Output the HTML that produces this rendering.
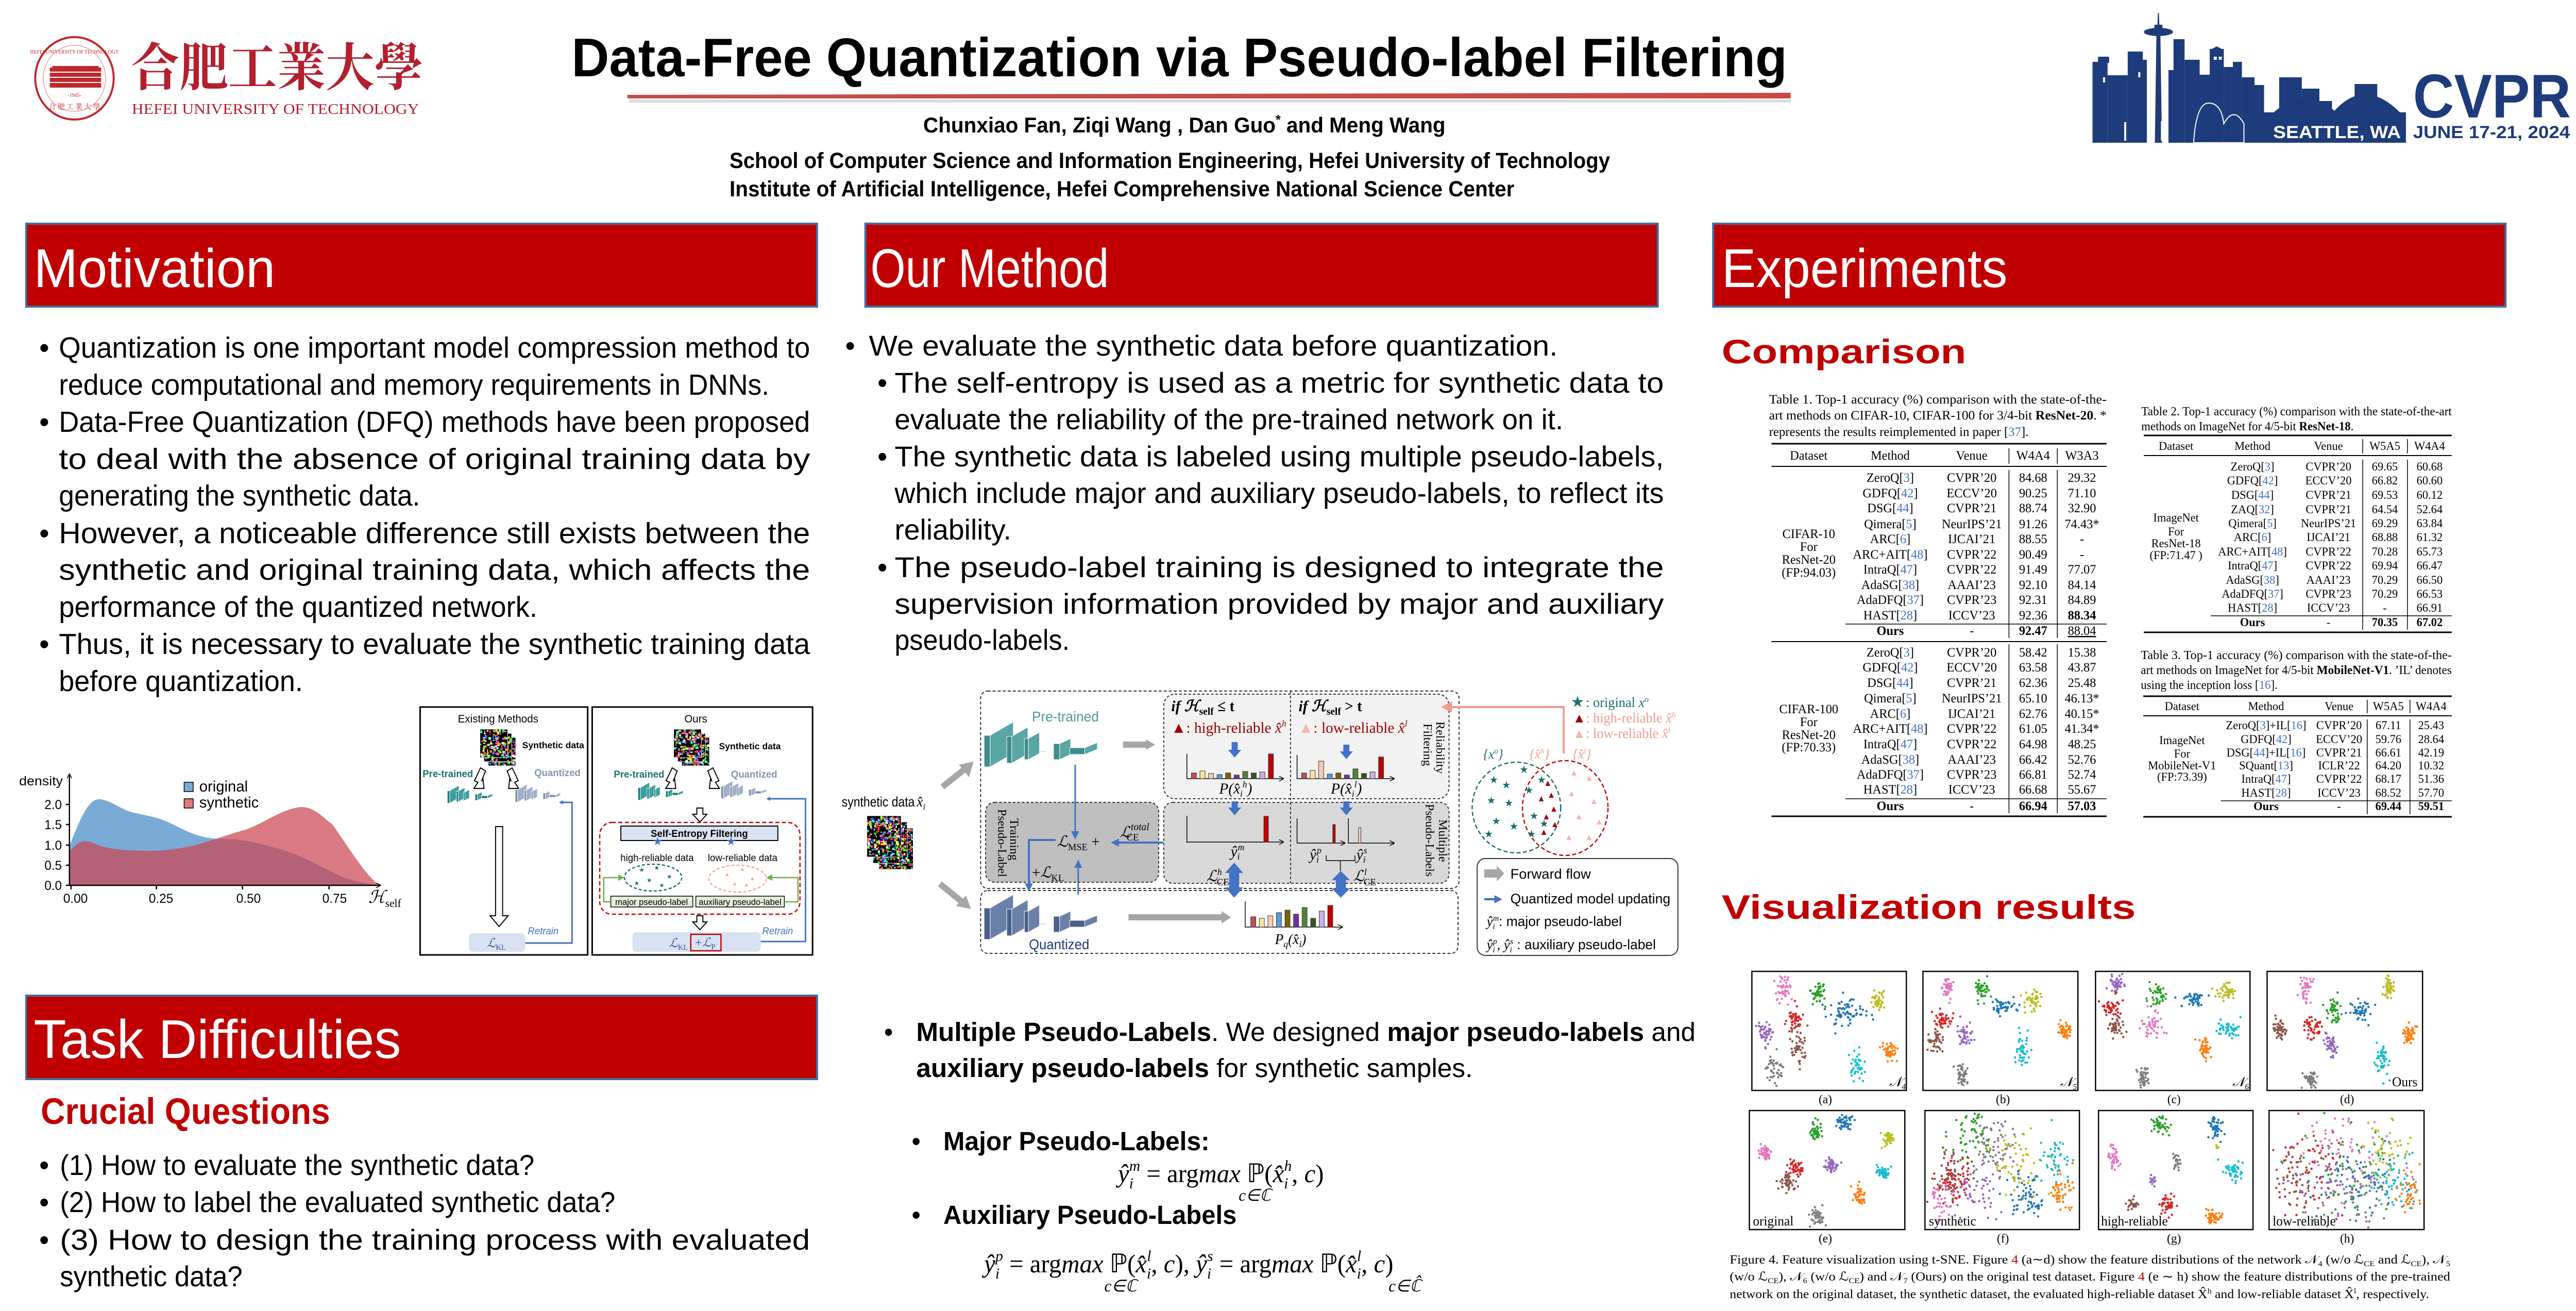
<!DOCTYPE html>
<html><head><meta charset="utf-8">
<style>
html,body{margin:0;padding:0;background:#fff;width:100%;height:100%;overflow:hidden;}
svg{display:block;position:fixed;left:0;top:0;width:100vw;height:100vh;}
.s{font-family:"Liberation Sans",sans-serif;}
.r{font-family:"Liberation Serif",serif;}
</style></head>
<body>
<svg id="sv" xmlns="http://www.w3.org/2000/svg" viewBox="0 0 5120 2544" preserveAspectRatio="none">
<defs>
<linearGradient id="rl" x1="0" x2="1"><stop offset="0" stop-color="#c0504d"/><stop offset="1" stop-color="#c94a47"/></linearGradient>
<marker id="ab" markerWidth="8" markerHeight="8" refX="6" refY="4" orient="auto" markerUnits="userSpaceOnUse"><path d="M0,0 L8,4 L0,8 z" fill="#4472c4"/></marker>
<marker id="ab2" markerWidth="16" markerHeight="16" refX="12" refY="8" orient="auto" markerUnits="userSpaceOnUse"><path d="M0,0 L16,8 L0,16 z" fill="#4472c4"/></marker>
<marker id="ap" markerWidth="22" markerHeight="22" refX="16" refY="11" orient="auto" markerUnits="userSpaceOnUse"><path d="M0,0 L22,11 L0,22 z" fill="#f19c8f"/></marker>
<marker id="ag" markerWidth="12" markerHeight="12" refX="9" refY="6" orient="auto" markerUnits="userSpaceOnUse"><path d="M0,0 L12,6 L0,12 z" fill="#70ad47"/></marker>
<marker id="ak" markerWidth="10" markerHeight="10" refX="8" refY="5" orient="auto" markerUnits="userSpaceOnUse"><path d="M0,0 L10,5 L0,10" fill="none" stroke="#000" stroke-width="1.5"/></marker>
</defs>

<ellipse cx="148" cy="152" rx="78" ry="80" fill="none" stroke="#c0282e" stroke-width="4"/>
<ellipse cx="148" cy="152" rx="62" ry="64" fill="none" stroke="#e6a0a0" stroke-width="1.5"/>
<text x="148" y="104" text-anchor="middle" class="r" font-size="10" fill="#c0282e">HEFEI UNIVERSITY OF TECHNOLOGY</text>
<rect x="99" y="131" width="102" height="39" fill="#c0282e"/>
<g stroke="#fff" stroke-width="2"><line x1="99" y1="140" x2="201" y2="140"/><line x1="99" y1="150" x2="201" y2="150"/><line x1="99" y1="160" x2="201" y2="160"/></g>
<rect x="104" y="128" width="92" height="4" fill="#c0282e"/>
<text x="148" y="188" text-anchor="middle" class="r" font-size="10" fill="#c0282e">-1945-</text>
<text x="148" y="212" text-anchor="middle" font-family="'Noto Serif CJK SC',serif" font-size="14" fill="#c0282e">合 肥 工 業 大 學</text>
<text x="260" y="166" font-family="'Noto Serif CJK SC','Noto Sans CJK SC',serif" font-weight="bold" font-size="100" fill="#b41f2e" textLength="581" lengthAdjust="spacingAndGlyphs">合肥工業大學</text>
<text x="262" y="221" class="r" font-size="28" fill="#b41f2e" textLength="571" lengthAdjust="spacingAndGlyphs">HEFEI UNIVERSITY OF TECHNOLOGY</text>

<text x="1136" y="148" class="s" font-weight="bold" font-size="106" textLength="2416" lengthAdjust="spacingAndGlyphs">Data-Free Quantization via Pseudo-label Filtering</text>
<rect x="1250" y="193" width="2310" height="6" fill="#ddd"/>
<path d="M1247,184 L3559,180 L3559,191 L1247,191 z" fill="url(#rl)"/>
<text x="1835" y="257" class="s" font-weight="bold" font-size="42" textLength="1038" lengthAdjust="spacingAndGlyphs">Chunxiao Fan, Ziqi Wang , Dan Guo<tspan dy="-16" font-size="26">*</tspan><tspan dy="16"> and Meng Wang</tspan></text>
<text x="1450" y="326" class="s" font-weight="bold" font-size="43" textLength="1750" lengthAdjust="spacingAndGlyphs">School of Computer Science and Information Engineering, Hefei University of Technology</text>
<text x="1450" y="381" class="s" font-weight="bold" font-size="43" textLength="1560" lengthAdjust="spacingAndGlyphs">Institute of Artificial Intelligence, Hefei Comprehensive National Science Center</text>

<g fill="#1e3c7b">
<rect x="4159" y="120" width="30" height="157"/>
<rect x="4170" y="110" width="22" height="12"/>
<rect x="4189" y="146" width="40" height="131"/>
<rect x="4229" y="100" width="30" height="177"/>
<rect x="4247" y="116" width="20" height="161"/>
<path d="M4283,277 L4286,70 L4294,70 L4297,277 z"/>
<ellipse cx="4290" cy="62" rx="29" ry="8"/>
<rect x="4282" y="48" width="16" height="10"/>
<path d="M4289,25 L4291,25 L4292,50 L4288,50 z"/>
<rect x="4310" y="136" width="25" height="141"/>
<rect x="4320" y="76" width="22" height="201"/>
<rect x="4342" y="116" width="30" height="161"/>
<rect x="4356" y="118" width="15" height="10"/>
<rect x="4372" y="145" width="22" height="132"/>
<rect x="4392" y="95" width="28" height="182"/>
<path d="M4396,95 L4406,90 L4416,95 z"/>
<rect x="4420" y="130" width="22" height="147"/>
<rect x="4438" y="120" width="18" height="157"/>
<rect x="4456" y="150" width="25" height="127"/>
<rect x="4480" y="165" width="20" height="112"/>
<rect x="4530" y="150" width="45" height="127"/>
<rect x="4575" y="172" width="35" height="105"/>
<rect x="4610" y="196" width="25" height="81"/>
<rect x="4680" y="163" width="45" height="114"/>
<rect x="4500" y="218" width="282" height="59"/>
<path d="M4517,220 Q4580,165 4640,215 Q4700,150 4770,218 z"/>
</g>
<g fill="#fff"><rect x="4222" y="237" width="4" height="36"/><rect x="4295" y="235" width="4" height="38"/>
<rect x="4180" y="150" width="4" height="10"/><rect x="4250" y="140" width="4" height="10"/><rect x="4400" y="110" width="6" height="6"/><rect x="4410" y="110" width="6" height="6"/></g>
<path d="M4360,277 Q4365,200 4390,200 Q4415,200 4420,240 Q4440,205 4460,240 L4460,277 z" fill="none" stroke="#fff" stroke-width="2"/>
<text x="4518" y="268" class="s" font-weight="bold" font-size="34" fill="#fff" textLength="254" lengthAdjust="spacingAndGlyphs">SEATTLE, WA</text>
<text x="4796" y="228" class="s" font-weight="bold" font-size="120" fill="#1e3c7b" textLength="314" lengthAdjust="spacingAndGlyphs">CVPR</text>
<text x="4796" y="268" class="s" font-weight="bold" font-size="34" fill="#1e3c7b" textLength="312" lengthAdjust="spacingAndGlyphs">JUNE 17-21, 2024</text>

<g fill="#c00000" stroke="#41719c" stroke-width="4">
<rect x="52" y="434" width="1572" height="161"/>
<rect x="1720" y="434" width="1575" height="161"/>
<rect x="3405" y="434" width="1575" height="161"/>
<rect x="52" y="1932" width="1572" height="162"/>
</g>
<g class="s" fill="#fff" font-size="106">
<text x="67" y="557" textLength="480" lengthAdjust="spacingAndGlyphs">Motivation</text>
<text x="1730" y="557" textLength="474" lengthAdjust="spacingAndGlyphs">Our Method</text>
<text x="3422" y="557" textLength="568" lengthAdjust="spacingAndGlyphs">Experiments</text>
<text x="67" y="2053" textLength="730" lengthAdjust="spacingAndGlyphs">Task Difficulties</text>
</g>

<g class="s" font-size="57" fill="#000">
<text x="78" y="694">•</text><text x="78" y="838">•</text><text x="78" y="1054">•</text><text x="78" y="1269">•</text>
<text x="117" y="694" textLength="1493" lengthAdjust="spacingAndGlyphs">Quantization is one important model compression method to</text>
<text x="117" y="766" textLength="1412" lengthAdjust="spacingAndGlyphs">reduce computational and memory requirements in DNNs.</text>
<text x="117" y="838" textLength="1493" lengthAdjust="spacingAndGlyphs">Data-Free Quantization (DFQ) methods have been proposed</text>
<text x="117" y="910" textLength="1493" lengthAdjust="spacingAndGlyphs">to  deal  with  the  absence  of  original  training  data  by</text>
<text x="117" y="981" textLength="718" lengthAdjust="spacingAndGlyphs">generating the synthetic data.</text>
<text x="117" y="1054" textLength="1493" lengthAdjust="spacingAndGlyphs">However,  a  noticeable  difference  still  exists  between  the</text>
<text x="117" y="1125" textLength="1493" lengthAdjust="spacingAndGlyphs">synthetic  and  original  training  data,  which  affects  the</text>
<text x="117" y="1197" textLength="951" lengthAdjust="spacingAndGlyphs">performance of the quantized network.</text>
<text x="117" y="1269" textLength="1493" lengthAdjust="spacingAndGlyphs">Thus, it is necessary to evaluate the synthetic training data</text>
<text x="117" y="1341" textLength="485" lengthAdjust="spacingAndGlyphs">before quantization.</text>
</g>

<path d="M138,1718 L138,1641 C160,1590 175,1548 200,1551 C225,1555 240,1572 270,1578 C300,1584 320,1588 340,1598 C370,1612 395,1628 444,1628 C490,1628 530,1640 570,1652 C610,1664 640,1685 690,1705 C720,1714 740,1716 753,1718 z" fill="#7aaad6"/>
<path d="M138,1718 L138,1652 C150,1640 160,1628 180,1634 C200,1642 215,1648 260,1650 C300,1652 330,1652 380,1642 C420,1632 450,1620 488,1610 C530,1595 560,1570 598,1566 C625,1566 640,1585 661,1600 C690,1640 720,1690 753,1718 z" fill="#cc4652" fill-opacity="0.72"/>
<g stroke="#000" stroke-width="2.5" fill="none">
<line x1="138" y1="1718" x2="755" y2="1718" marker-end="url(#ak)"/>
<line x1="138" y1="1718" x2="138" y2="1503" marker-end="url(#ak)"/>
<line x1="131" y1="1718" x2="138" y2="1718"/><line x1="131" y1="1679" x2="138" y2="1679"/><line x1="131" y1="1640" x2="138" y2="1640"/><line x1="131" y1="1600" x2="138" y2="1600"/><line x1="131" y1="1561" x2="138" y2="1561"/>
<line x1="141" y1="1718" x2="141" y2="1726"/><line x1="311" y1="1718" x2="311" y2="1726"/><line x1="482" y1="1718" x2="482" y2="1726"/><line x1="654" y1="1718" x2="654" y2="1726"/>
</g>
<g class="s" font-size="25" fill="#000">
<text x="38" y="1524" textLength="87" lengthAdjust="spacingAndGlyphs">density</text>
<text x="123" y="1570" text-anchor="end">2.0</text><text x="123" y="1609" text-anchor="end">1.5</text><text x="123" y="1649" text-anchor="end">1.0</text><text x="123" y="1688" text-anchor="end">0.5</text><text x="123" y="1727" text-anchor="end">0.0</text>
<text x="150" y="1752" text-anchor="middle">0.00</text><text x="320" y="1752" text-anchor="middle">0.25</text><text x="494" y="1752" text-anchor="middle">0.50</text><text x="665" y="1752" text-anchor="middle">0.75</text>
<rect x="366" y="1518" width="18" height="18" fill="#7aaad6" stroke="#000" stroke-width="1.5"/>
<rect x="366" y="1550" width="18" height="18" fill="#de7a80" stroke="#000" stroke-width="1.5"/>
<text x="396" y="1536" font-size="30">original</text>
<text x="396" y="1567" font-size="30">synthetic</text>
</g>
<text x="732" y="1752" class="r" font-style="italic" font-size="34">ℋ<tspan font-style="normal" font-size="22" dy="8">self</tspan></text>

<rect x="835" y="1372" width="333" height="481" fill="#fff" stroke="#000" stroke-width="3"/>
<rect x="1177" y="1372" width="438" height="481" fill="#fff" stroke="#000" stroke-width="3"/>
<g class="s" font-size="21">
<text x="990" y="1402" text-anchor="middle">Existing Methods</text>
<text x="1383" y="1402" text-anchor="middle">Ours</text>
<text x="1038" y="1452" font-weight="bold" font-size="18">Synthetic data</text>
<text x="1429" y="1454" font-weight="bold" font-size="18">Synthetic data</text>
<text x="840" y="1508" fill="#1b6e70" font-weight="bold" font-size="19">Pre-trained</text>
<text x="1062" y="1506" fill="#8496b0" font-weight="bold" font-size="19">Quantized</text>
<text x="1220" y="1509" fill="#1b6e70" font-weight="bold" font-size="19">Pre-trained</text>
<text x="1453" y="1509" fill="#8496b0" font-weight="bold" font-size="19">Quantized</text>
</g>
<g fill="#fff" stroke="#000" stroke-width="2">
<path d="M955,1490 L943,1515 L950,1518 L942,1530 L962,1530 L960,1512 L957,1516 L965,1496 z"/>
<path d="M1018,1490 L1030,1515 L1023,1518 L1031,1530 L1011,1530 L1013,1512 L1016,1516 L1008,1496 z"/>
<path d="M1336,1490 L1324,1515 L1331,1518 L1323,1530 L1343,1530 L1341,1512 L1338,1516 L1346,1496 z"/>
<path d="M1417,1490 L1429,1515 L1422,1518 L1430,1530 L1410,1530 L1412,1512 L1415,1516 L1407,1496 z"/>
<path d="M985,1604 L999,1604 L999,1777 L1010,1777 L992,1798 L974,1777 L985,1777 z"/>
<path d="M1385,1568 L1397,1568 L1397,1580 L1405,1580 L1391,1595 L1377,1580 L1385,1580 z"/>
<path d="M1385,1777 L1397,1777 L1397,1789 L1405,1789 L1391,1804 L1377,1789 L1385,1789 z"/>
</g>
<rect x="932" y="1811" width="112" height="36" rx="8" fill="#d9e2f3"/>
<text x="968" y="1838" class="r" font-style="italic" font-size="24" fill="#2f5597">ℒ<tspan font-size="15" dy="5" font-style="normal">KL</tspan></text>
<text x="1049" y="1813" class="s" font-style="italic" font-size="19" fill="#4472c4">Retrain</text>
<polyline points="1044,1830 1137,1830 1137,1557 1113,1557" fill="none" stroke="#4472c4" stroke-width="3" marker-end="url(#ab)"/>
<rect x="1192" y="1596" width="398" height="178" rx="24" fill="none" stroke="#c00000" stroke-width="2.5" stroke-dasharray="8,5"/>
<rect x="1234" y="1603" width="312" height="28" fill="#dae3f3" stroke="#000" stroke-width="2"/>
<text x="1390" y="1624" text-anchor="middle" class="s" font-weight="bold" font-size="19">Self-Entropy Filtering</text>
<text x="1307" y="1640" text-anchor="middle" fill="#4472c4" font-size="22">★</text>
<text x="1453" y="1640" text-anchor="middle" fill="#4472c4" font-size="22">★</text>
<text x="1306" y="1671" text-anchor="middle" class="s" font-size="19">high-reliable data</text>
<text x="1476" y="1671" text-anchor="middle" class="s" font-size="19">low-reliable data</text>
<ellipse cx="1298" cy="1703" rx="57" ry="26" fill="none" stroke="#1b6e70" stroke-width="2.5" stroke-dasharray="6,4"/>
<ellipse cx="1466" cy="1705" rx="57" ry="26" fill="none" stroke="#f4a99c" stroke-width="2.5" stroke-dasharray="6,4"/>
<g fill="#1b6e70" font-size="12"><text x="1270" y="1692">★</text><text x="1300" y="1688">★</text><text x="1325" y="1705">★</text><text x="1285" y="1712">★</text><text x="1260" y="1718">★</text><text x="1310" y="1722">★</text></g>
<g fill="#f4a99c" font-size="11"><text x="1440" y="1700">▲</text><text x="1470" y="1690">▲</text><text x="1490" y="1708">▲</text><text x="1455" y="1718">▲</text><text x="1478" y="1720">▲</text></g>
<rect x="1214" y="1739" width="163" height="21" fill="#e2efd9" stroke="#000" stroke-width="1.5"/>
<rect x="1383" y="1739" width="176" height="21" fill="#e2efd9" stroke="#000" stroke-width="1.5"/>
<text x="1295" y="1756" text-anchor="middle" class="s" font-size="17">major pseudo-label</text>
<text x="1471" y="1756" text-anchor="middle" class="s" font-size="17">auxiliary pseudo-label</text>
<polyline points="1214,1750 1200,1750 1200,1703 1238,1703" fill="none" stroke="#70ad47" stroke-width="2.5" marker-end="url(#ag)"/>
<polyline points="1559,1750 1586,1750 1586,1703 1526,1703" fill="none" stroke="#70ad47" stroke-width="2.5" marker-end="url(#ag)"/>
<rect x="1257" y="1809" width="255" height="38" rx="8" fill="#d9e2f3"/>
<text x="1330" y="1838" class="r" font-style="italic" font-size="24" fill="#2f5597">ℒ<tspan font-size="15" dy="5" font-style="normal">KL</tspan></text>
<rect x="1373" y="1813" width="60" height="32" fill="none" stroke="#c00000" stroke-width="2.5"/>
<text x="1380" y="1837" class="r" font-style="italic" font-size="24" fill="#2f5597">+ℒ<tspan font-size="15" dy="5" font-style="normal">P</tspan></text>
<text x="1515" y="1813" class="s" font-style="italic" font-size="19" fill="#4472c4">Retrain</text>
<polyline points="1512,1827 1601,1827 1601,1550 1525,1550" fill="none" stroke="#4472c4" stroke-width="3" marker-end="url(#ab)"/>

<text x="81" y="2181" class="s" font-weight="bold" font-size="71" fill="#c00000" textLength="575" lengthAdjust="spacingAndGlyphs">Crucial Questions</text>
<g class="s" font-size="56">
<text x="78" y="2280">•</text><text x="78" y="2352">•</text><text x="78" y="2425">•</text>
<text x="119" y="2280" textLength="943" lengthAdjust="spacingAndGlyphs">(1) How to evaluate the synthetic data?</text>
<text x="119" y="2352" textLength="1104" lengthAdjust="spacingAndGlyphs">(2) How to label the evaluated synthetic data?</text>
<text x="119" y="2425" textLength="1491" lengthAdjust="spacingAndGlyphs">(3)  How  to  design  the  training  process  with  evaluated</text>
<text x="119" y="2496" textLength="363" lengthAdjust="spacingAndGlyphs">synthetic data?</text>
</g>

<g class="s" font-size="56">
<text x="1680" y="690">•</text>
<text x="1727" y="690" textLength="1369" lengthAdjust="spacingAndGlyphs">We evaluate the synthetic data before quantization.</text>
<text x="1744" y="762">•</text><text x="1744" y="905">•</text><text x="1744" y="1120">•</text>
<text x="1778" y="762" textLength="1529" lengthAdjust="spacingAndGlyphs">The  self-entropy  is  used  as  a  metric  for  synthetic  data  to</text>
<text x="1778" y="833" textLength="1329" lengthAdjust="spacingAndGlyphs">evaluate the reliability of the pre-trained network on it.</text>
<text x="1778" y="905" textLength="1529" lengthAdjust="spacingAndGlyphs">The  synthetic  data  is  labeled  using  multiple  pseudo-labels,</text>
<text x="1778" y="976" textLength="1529" lengthAdjust="spacingAndGlyphs">which include major and auxiliary pseudo-labels, to reflect its</text>
<text x="1778" y="1047" textLength="232" lengthAdjust="spacingAndGlyphs">reliability.</text>
<text x="1778" y="1120" textLength="1529" lengthAdjust="spacingAndGlyphs">The   pseudo-label   training   is   designed   to   integrate   the</text>
<text x="1778" y="1191" textLength="1529" lengthAdjust="spacingAndGlyphs">supervision  information  provided  by  major  and  auxiliary</text>
<text x="1778" y="1261" textLength="348" lengthAdjust="spacingAndGlyphs">pseudo-labels.</text>
</g>

<rect x="1949" y="1341" width="951" height="383" rx="14" fill="none" stroke="#333" stroke-width="2" stroke-dasharray="6,4"/>
<rect x="1949" y="1728" width="949" height="122" rx="14" fill="none" stroke="#333" stroke-width="2" stroke-dasharray="6,4"/>
<rect x="2313" y="1347" width="567" height="203" rx="22" fill="#f2f2f2" stroke="#333" stroke-width="2" stroke-dasharray="5,4"/>
<rect x="2313" y="1557" width="567" height="157" rx="18" fill="#d9d9d9" stroke="#333" stroke-width="2" stroke-dasharray="5,4"/>
<rect x="1959" y="1557" width="344" height="155" rx="18" fill="#bfbfbf" stroke="#333" stroke-width="2" stroke-dasharray="5,4"/>
<line x1="2565" y1="1341" x2="2565" y2="1714" stroke="#333" stroke-width="2" stroke-dasharray="5,4"/>
<text x="1673" y="1565" class="s" font-size="27" textLength="145" lengthAdjust="spacingAndGlyphs">synthetic data</text>
<text x="1822" y="1565" class="r" font-style="italic" font-size="28">x̂<tspan font-size="17" dy="6">i</tspan></text>
<g stroke="#a6a6a6" stroke-width="12" fill="none">
<line x1="1873" y1="1527" x2="1918" y2="1492"/>
<line x1="1868" y1="1715" x2="1912" y2="1750"/>
<line x1="2232" y1="1445" x2="2280" y2="1445"/>
<line x1="2243" y1="1780" x2="2430" y2="1780"/>
</g>
<g fill="#a6a6a6">
<path d="M1935,1478 L1926,1508 L1906,1484 z"/>
<path d="M1930,1764 L1900,1758 L1920,1738 z"/>
<path d="M2296,1445 L2278,1435 L2278,1455 z"/>
<path d="M2447,1780 L2428,1768 L2428,1792 z"/>
</g>
<text x="2051" y="1400" class="s" font-size="28" fill="#4f9a9a" textLength="133" lengthAdjust="spacingAndGlyphs">Pre-trained</text>
<text x="2045" y="1842" class="s" font-size="28" fill="#1f3a78" textLength="120" lengthAdjust="spacingAndGlyphs">Quantized</text>
<line x1="2137" y1="1484" x2="2137" y2="1625" stroke="#4472c4" stroke-width="3" marker-end="url(#ab2)"/>
<line x1="2312" y1="1635" x2="2212" y2="1635" stroke="#4472c4" stroke-width="4" marker-end="url(#ab2)"/>
<polyline points="2098,1630 2045,1630 2045,1726" fill="none" stroke="#4472c4" stroke-width="4" marker-end="url(#ab2)"/>
<line x1="2143" y1="1736" x2="2143" y2="1672" stroke="#4472c4" stroke-width="3" marker-end="url(#ab2)"/>
<text x="2101" y="1643" class="r" font-style="italic" font-size="30">ℒ<tspan font-style="normal" font-size="19" dy="7">MSE</tspan><tspan font-style="normal" font-size="30" dy="-7"> +</tspan></text>
<text x="2226" y="1625" class="r" font-style="italic" font-size="30">ℒ<tspan font-size="20" dy="-14">total</tspan><tspan font-style="normal" font-size="19" dx="-45" dy="20">CE</tspan></text>
<text x="2051" y="1703" class="r" font-style="italic" font-size="30"><tspan font-style="normal">+</tspan>ℒ<tspan font-style="normal" font-size="19" dy="7">KL</tspan></text>
<text transform="translate(1984,1570) rotate(90)" class="r" font-size="24">Pseudo-Label</text>
<text transform="translate(2008,1588) rotate(90)" class="r" font-size="24">Training</text>
<text transform="translate(2855,1400) rotate(90)" class="r" font-size="24">Reliability</text>
<text transform="translate(2830,1404) rotate(90)" class="r" font-size="24">Filtering</text>
<text transform="translate(2860,1590) rotate(90)" class="r" font-size="24">Multiple</text>
<text transform="translate(2834,1560) rotate(90)" class="r" font-size="24">Pseudo-Labels</text>
<g class="r" font-size="30" font-style="italic">
<text x="2328" y="1380" font-weight="bold">if ℋ<tspan font-style="normal" font-size="20" dy="7">self</tspan><tspan dy="-7" font-style="normal"> ≤ t</tspan></text>
<text x="2581" y="1380" font-weight="bold">if ℋ<tspan font-style="normal" font-size="20" dy="7">self</tspan><tspan dy="-7" font-style="normal"> &gt; t</tspan></text>
</g>
<text x="2328" y="1422" class="r" font-size="30" fill="#a00000"><tspan fill="#a00000">▲</tspan>: high-reliable <tspan font-style="italic">x̂<tspan font-size="18" dy="-12">h</tspan></tspan></text>
<text x="2581" y="1422" class="r" font-size="30" fill="#a00000"><tspan fill="#f4b6ad">▲</tspan>: low-reliable <tspan font-style="italic">x̂<tspan font-size="18" dy="-12">l</tspan></tspan></text>
<g fill="#4472c4">
<path d="M2448,1440 L2460,1440 L2460,1455 L2467,1455 L2454,1470 L2441,1455 L2448,1455 z"/>
<path d="M2670,1445 L2682,1445 L2682,1458 L2689,1458 L2676,1473 L2663,1458 L2670,1458 z"/>
<path d="M2448,1555 L2460,1555 L2460,1567 L2467,1567 L2454,1582 L2441,1567 L2448,1567 z"/>
<path d="M2670,1555 L2682,1555 L2682,1567 L2689,1567 L2676,1582 L2663,1567 L2670,1567 z"/>
<path d="M2453,1674 L2471,1694 L2463,1694 L2463,1722 L2471,1722 L2453,1742 L2435,1722 L2443,1722 L2443,1694 L2435,1694 z"/>
<path d="M2665,1690 L2683,1708 L2675,1708 L2675,1724 L2683,1724 L2665,1742 L2647,1724 L2655,1724 L2655,1708 L2647,1708 z"/>
</g>
<g stroke="#000" stroke-width="1.5" fill="none">
<polyline points="2359,1463 2359,1511 2550,1511" marker-end="url(#ak)"/>
<polyline points="2578,1465 2578,1511 2770,1511" marker-end="url(#ak)"/>
<polyline points="2359,1583 2359,1634 2550,1634" marker-end="url(#ak)"/>
<polyline points="2578,1588 2578,1636 2672,1636" marker-end="url(#ak)"/>
<polyline points="2680,1588 2680,1636 2770,1636" marker-end="url(#ak)"/>
<polyline points="2475,1749 2475,1799 2667,1799" marker-end="url(#ak)"/>
<polyline points="2636,1660 2636,1670 2693,1670 2693,1660"/>
<line x1="2664" y1="1670" x2="2664" y2="1690"/>
</g>
<g id="bars"></g>
<text x="2456" y="1540" text-anchor="middle" class="r" font-style="italic" font-size="30">P(x̂<tspan font-size="18" dy="6">i</tspan><tspan font-size="18" dy="-18">h</tspan><tspan dy="12">)</tspan></text>
<text x="2676" y="1540" text-anchor="middle" class="r" font-style="italic" font-size="30">P(x̂<tspan font-size="18" dy="6">i</tspan><tspan font-size="18" dy="-18">l</tspan><tspan dy="12">)</tspan></text>
<text x="2446" y="1662" class="r" font-style="italic" font-size="30">ŷ<tspan font-size="18" dy="6">i</tspan><tspan font-size="18" dy="-18" dx="-4">m</tspan></text>
<text x="2603" y="1668" class="r" font-style="italic" font-size="30">ŷ<tspan font-size="18" dy="6">i</tspan><tspan font-size="18" dy="-18" dx="-4">p</tspan></text>
<text x="2696" y="1668" class="r" font-style="italic" font-size="30">ŷ<tspan font-size="18" dy="6">i</tspan><tspan font-size="18" dy="-18" dx="-4">s</tspan></text>
<text x="2398" y="1710" class="r" font-style="italic" font-size="30">ℒ<tspan font-size="18" dy="-12">h</tspan><tspan font-style="normal" font-size="19" dx="-10" dy="20">CE</tspan></text>
<text x="2690" y="1710" class="r" font-style="italic" font-size="30">ℒ<tspan font-size="18" dy="-12">l</tspan><tspan font-style="normal" font-size="19" dx="-6" dy="20">CE</tspan></text>
<text x="2534" y="1832" class="r" font-style="italic" font-size="28">P<tspan font-size="18" dy="6">q</tspan><tspan dy="-6">(x̂</tspan><tspan font-size="18" dy="6">i</tspan><tspan dy="-6">)</tspan></text>
<g id="nets"></g>
<polyline points="3108,1462 3108,1372 2870,1372" fill="none" stroke="#f19c8f" stroke-width="4" marker-end="url(#ap)"/>
<text x="3122" y="1372" fill="#1b6e70" font-size="30">★</text>
<text x="3152" y="1372" class="r" font-size="27" fill="#1b6e70">: original <tspan font-style="italic">x<tspan font-size="16" dy="-10">o</tspan></tspan></text>
<text x="3126" y="1402" fill="#a00000" font-size="26">▲</text>
<text x="3152" y="1402" class="r" font-size="27" fill="#f19c8f">: high-reliable <tspan font-style="italic">x̂<tspan font-size="16" dy="-10">h</tspan></tspan></text>
<text x="3126" y="1432" fill="#f4b6ad" font-size="26">▲</text>
<text x="3152" y="1432" class="r" font-size="27" fill="#f19c8f">: low-reliable <tspan font-style="italic">x̂<tspan font-size="16" dy="-10">l</tspan></tspan></text>
<text x="2948" y="1472" class="r" font-style="italic" font-size="26" fill="#1b6e70">{x<tspan font-size="15" dy="-10">o</tspan><tspan dy="10">}</tspan></text>
<text x="3040" y="1472" class="r" font-style="italic" font-size="26" fill="#f19c8f">{x̂<tspan font-size="15" dy="-10">h</tspan><tspan dy="10">}</tspan></text>
<text x="3126" y="1472" class="r" font-style="italic" font-size="26" fill="#f19c8f">{x̂<tspan font-size="15" dy="-10">l</tspan><tspan dy="10">}</tspan></text>
<ellipse cx="3014" cy="1567" rx="88" ry="88" fill="none" stroke="#1b6e70" stroke-width="2.5" stroke-dasharray="8,5"/>
<ellipse cx="3111" cy="1568" rx="85" ry="92" fill="none" stroke="#c00000" stroke-width="2.5" stroke-dasharray="8,5"/>
<g id="venn"></g>
<rect x="2936" y="1666" width="399" height="188" rx="16" fill="#fff" stroke="#333" stroke-width="2"/>
<path d="M2950,1687 L2975,1687 L2975,1680 L2990,1695 L2975,1710 L2975,1703 L2950,1703 z" fill="#a6a6a6"/>
<line x1="2950" y1="1745" x2="2982" y2="1745" stroke="#2e75b6" stroke-width="4" marker-end="url(#ab2)"/>
<g class="s" font-size="27">
<text x="3002" y="1705" textLength="160" lengthAdjust="spacingAndGlyphs">Forward flow</text>
<text x="3002" y="1753" textLength="318" lengthAdjust="spacingAndGlyphs">Quantized model updating</text>
<text x="2955" y="1797"><tspan class="r" font-style="italic">ŷ<tspan font-size="16" dy="6">i</tspan><tspan font-size="16" dy="-16" dx="-4">m</tspan></tspan><tspan dy="10">: major pseudo-label</tspan></text>
<text x="2955" y="1842"><tspan class="r" font-style="italic">ŷ<tspan font-size="16" dy="6">i</tspan><tspan font-size="16" dy="-16" dx="-4">p</tspan><tspan dy="10">, ŷ</tspan><tspan font-size="16" dy="6">i</tspan><tspan font-size="16" dy="-16" dx="-4">s</tspan></tspan><tspan dy="10"> : auxiliary pseudo-label</tspan></text>
</g>
<g id="imgs"></g>

<g class="s" font-size="51">
<text x="1757" y="2020">•</text>
<text x="1821" y="2020" textLength="1549" lengthAdjust="spacingAndGlyphs"><tspan font-weight="bold">Multiple Pseudo-Labels</tspan>. We designed <tspan font-weight="bold">major pseudo-labels</tspan> and</text>
<text x="1821" y="2090" textLength="1106" lengthAdjust="spacingAndGlyphs"><tspan font-weight="bold">auxiliary pseudo-labels</tspan> for synthetic samples.</text>
<text x="1812" y="2232">•</text>
<text x="1875" y="2232" font-weight="bold" textLength="529" lengthAdjust="spacingAndGlyphs">Major Pseudo-Labels:</text>
<text x="1812" y="2375">•</text>
<text x="1875" y="2375" font-weight="bold" textLength="583" lengthAdjust="spacingAndGlyphs">Auxiliary Pseudo-Labels</text>
</g>
<g class="r" font-size="50">
<text x="2222" y="2294"><tspan font-style="italic">ŷ</tspan><tspan font-size="30" dy="12" font-style="italic">i</tspan><tspan font-size="30" dy="-34" dx="-8" font-style="italic">m</tspan><tspan dy="22"> = arg</tspan><tspan font-style="italic">max</tspan> ℙ(<tspan font-style="italic">x̂</tspan><tspan font-size="30" dy="12" font-style="italic">i</tspan><tspan font-size="30" dy="-34" dx="-8" font-style="italic">h</tspan><tspan dy="22">, </tspan><tspan font-style="italic">c</tspan>)</text>
<text x="2462" y="2330" font-size="32" font-style="italic">c∈ℂ</text>
<text x="1956" y="2469"><tspan font-style="italic">ŷ</tspan><tspan font-size="30" dy="12" font-style="italic">i</tspan><tspan font-size="30" dy="-34" dx="-8" font-style="italic">p</tspan><tspan dy="22"> = arg</tspan><tspan font-style="italic">max</tspan> ℙ(<tspan font-style="italic">x̂</tspan><tspan font-size="30" dy="12" font-style="italic">i</tspan><tspan font-size="30" dy="-34" dx="-8" font-style="italic">l</tspan><tspan dy="22">, </tspan><tspan font-style="italic">c</tspan>), <tspan font-style="italic">ŷ</tspan><tspan font-size="30" dy="12" font-style="italic">i</tspan><tspan font-size="30" dy="-34" dx="-8" font-style="italic">s</tspan><tspan dy="22"> = arg</tspan><tspan font-style="italic">max</tspan> ℙ(<tspan font-style="italic">x̂</tspan><tspan font-size="30" dy="12" font-style="italic">i</tspan><tspan font-size="30" dy="-34" dx="-8" font-style="italic">l</tspan><tspan dy="22">, </tspan><tspan font-style="italic">c</tspan>)</text>
<text x="2195" y="2506" font-size="32" font-style="italic">c∈ℂ</text>
<text x="2760" y="2506" font-size="32" font-style="italic">c∈ℂ̂</text>
</g>

<text x="3422" y="705" class="s" font-weight="bold" font-size="66" fill="#c00000" textLength="486" lengthAdjust="spacingAndGlyphs">Comparison</text>
<text x="3422" y="1783" class="s" font-weight="bold" font-size="66" fill="#c00000" textLength="823" lengthAdjust="spacingAndGlyphs">Visualization results</text>

<g class="r" font-size="25">
<text x="3516" y="783" textLength="671" lengthAdjust="spacingAndGlyphs">Table 1.  Top-1 accuracy (%) comparison with the state-of-the-</text>
<text x="3516" y="814" textLength="671" lengthAdjust="spacingAndGlyphs">art methods on CIFAR-10, CIFAR-100 for 3/4-bit <tspan font-weight="bold">ResNet-20</tspan>.  *</text>
<text x="3516" y="846" textLength="516" lengthAdjust="spacingAndGlyphs">represents the results reimplemented in paper [<tspan fill="#4472c4">37</tspan>].</text>
</g>
<g stroke="#000">
<line x1="3521" y1="861" x2="4187" y2="861" stroke-width="3"/>
<line x1="3521" y1="905" x2="4187" y2="905" stroke-width="2"/>
<line x1="3668" y1="1211" x2="4187" y2="1211" stroke-width="1.5"/>
<line x1="3521" y1="1245" x2="4187" y2="1245" stroke-width="2"/>
<line x1="3668" y1="1550" x2="4187" y2="1550" stroke-width="1.5"/>
<line x1="3521" y1="1584" x2="4187" y2="1584" stroke-width="3"/>
<line x1="3993" y1="870" x2="3993" y2="900" stroke-width="1.5"/><line x1="4089" y1="870" x2="4089" y2="900" stroke-width="1.5"/>
<line x1="3993" y1="912" x2="3993" y2="1238" stroke-width="1.5"/><line x1="4089" y1="912" x2="4089" y2="1238" stroke-width="1.5"/>
<line x1="3993" y1="1250" x2="3993" y2="1578" stroke-width="1.5"/><line x1="4089" y1="1250" x2="4089" y2="1578" stroke-width="1.5"/>
</g>
<g class="r" font-size="25" text-anchor="middle">
<text y="892"><tspan x="3595">Dataset</tspan><tspan x="3757">Method</tspan><tspan x="3919">Venue</tspan><tspan x="4041">W4A4</tspan><tspan x="4138">W3A3</tspan></text>
<text x="3595" y="1044">CIFAR-10</text><text x="3595" y="1069">For</text><text x="3595" y="1094">ResNet-20</text><text x="3595" y="1119">(FP:94.03)</text>
<text x="3595" y="1384">CIFAR-100</text><text x="3595" y="1409">For</text><text x="3595" y="1434">ResNet-20</text><text x="3595" y="1458">(FP:70.33)</text>
<text y="935"><tspan x="3757">ZeroQ[<tspan fill="#4472c4">3</tspan>]</tspan><tspan x="3919">CVPR’20</tspan><tspan x="4041">84.68</tspan><tspan x="4138">29.32</tspan></text>
<text y="965"><tspan x="3757">GDFQ[<tspan fill="#4472c4">42</tspan>]</tspan><tspan x="3919">ECCV’20</tspan><tspan x="4041">90.25</tspan><tspan x="4138">71.10</tspan></text>
<text y="994"><tspan x="3757">DSG[<tspan fill="#4472c4">44</tspan>]</tspan><tspan x="3919">CVPR’21</tspan><tspan x="4041">88.74</tspan><tspan x="4138">32.90</tspan></text>
<text y="1025"><tspan x="3757">Qimera[<tspan fill="#4472c4">5</tspan>]</tspan><tspan x="3919">NeurIPS’21</tspan><tspan x="4041">91.26</tspan><tspan x="4138">74.43*</tspan></text>
<text y="1054"><tspan x="3757">ARC[<tspan fill="#4472c4">6</tspan>]</tspan><tspan x="3919">IJCAI’21</tspan><tspan x="4041">88.55</tspan><tspan x="4138">-</tspan></text>
<text y="1084"><tspan x="3757">ARC+AIT[<tspan fill="#4472c4">48</tspan>]</tspan><tspan x="3919">CVPR’22</tspan><tspan x="4041">90.49</tspan><tspan x="4138">-</tspan></text>
<text y="1113"><tspan x="3757">IntraQ[<tspan fill="#4472c4">47</tspan>]</tspan><tspan x="3919">CVPR’22</tspan><tspan x="4041">91.49</tspan><tspan x="4138">77.07</tspan></text>
<text y="1143"><tspan x="3757">AdaSG[<tspan fill="#4472c4">38</tspan>]</tspan><tspan x="3919">AAAI’23</tspan><tspan x="4041">92.10</tspan><tspan x="4138">84.14</tspan></text>
<text y="1172"><tspan x="3757">AdaDFQ[<tspan fill="#4472c4">37</tspan>]</tspan><tspan x="3919">CVPR’23</tspan><tspan x="4041">92.31</tspan><tspan x="4138">84.89</tspan></text>
<text y="1202"><tspan x="3757">HAST[<tspan fill="#4472c4">28</tspan>]</tspan><tspan x="3919">ICCV’23</tspan><tspan x="4041">92.36</tspan><tspan x="4138" font-weight="bold">88.34</tspan></text>
<text y="1232"><tspan x="3757" font-weight="bold">Ours</tspan><tspan x="3919">-</tspan><tspan x="4041" font-weight="bold">92.47</tspan><tspan x="4138" text-decoration="underline">88.04</tspan></text>
<text y="1274"><tspan x="3757">ZeroQ[<tspan fill="#4472c4">3</tspan>]</tspan><tspan x="3919">CVPR’20</tspan><tspan x="4041">58.42</tspan><tspan x="4138">15.38</tspan></text>
<text y="1303"><tspan x="3757">GDFQ[<tspan fill="#4472c4">42</tspan>]</tspan><tspan x="3919">ECCV’20</tspan><tspan x="4041">63.58</tspan><tspan x="4138">43.87</tspan></text>
<text y="1333"><tspan x="3757">DSG[<tspan fill="#4472c4">44</tspan>]</tspan><tspan x="3919">CVPR’21</tspan><tspan x="4041">62.36</tspan><tspan x="4138">25.48</tspan></text>
<text y="1363"><tspan x="3757">Qimera[<tspan fill="#4472c4">5</tspan>]</tspan><tspan x="3919">NeurIPS’21</tspan><tspan x="4041">65.10</tspan><tspan x="4138">46.13*</tspan></text>
<text y="1393"><tspan x="3757">ARC[<tspan fill="#4472c4">6</tspan>]</tspan><tspan x="3919">IJCAI’21</tspan><tspan x="4041">62.76</tspan><tspan x="4138">40.15*</tspan></text>
<text y="1422"><tspan x="3757">ARC+AIT[<tspan fill="#4472c4">48</tspan>]</tspan><tspan x="3919">CVPR’22</tspan><tspan x="4041">61.05</tspan><tspan x="4138">41.34*</tspan></text>
<text y="1452"><tspan x="3757">IntraQ[<tspan fill="#4472c4">47</tspan>]</tspan><tspan x="3919">CVPR’22</tspan><tspan x="4041">64.98</tspan><tspan x="4138">48.25</tspan></text>
<text y="1482"><tspan x="3757">AdaSG[<tspan fill="#4472c4">38</tspan>]</tspan><tspan x="3919">AAAI’23</tspan><tspan x="4041">66.42</tspan><tspan x="4138">52.76</tspan></text>
<text y="1511"><tspan x="3757">AdaDFQ[<tspan fill="#4472c4">37</tspan>]</tspan><tspan x="3919">CVPR’23</tspan><tspan x="4041">66.81</tspan><tspan x="4138">52.74</tspan></text>
<text y="1540"><tspan x="3757">HAST[<tspan fill="#4472c4">28</tspan>]</tspan><tspan x="3919">ICCV’23</tspan><tspan x="4041">66.68</tspan><tspan x="4138">55.67</tspan></text>
<text y="1572"><tspan x="3757" font-weight="bold">Ours</tspan><tspan x="3919">-</tspan><tspan x="4041" font-weight="bold">66.94</tspan><tspan x="4138" font-weight="bold">57.03</tspan></text>
</g>

<g class="r" font-size="24">
<text x="4256" y="806" textLength="617" lengthAdjust="spacingAndGlyphs">Table 2. Top-1 accuracy (%) comparison with the state-of-the-art</text>
<text x="4256" y="835" textLength="422" lengthAdjust="spacingAndGlyphs">methods on ImageNet for 4/5-bit <tspan font-weight="bold">ResNet-18</tspan>.</text>
</g>
<g stroke="#000">
<line x1="4261" y1="845" x2="4873" y2="845" stroke-width="3"/>
<line x1="4261" y1="884" x2="4873" y2="884" stroke-width="2"/>
<line x1="4394" y1="1195" x2="4873" y2="1195" stroke-width="1.5"/>
<line x1="4261" y1="1227" x2="4873" y2="1227" stroke-width="3"/>
<line x1="4696" y1="852" x2="4696" y2="880" stroke-width="1.5"/><line x1="4785" y1="852" x2="4785" y2="880" stroke-width="1.5"/>
<line x1="4696" y1="892" x2="4696" y2="1222" stroke-width="1.5"/><line x1="4785" y1="892" x2="4785" y2="1222" stroke-width="1.5"/>
</g>
<g class="r" font-size="23" text-anchor="middle">
<text y="873"><tspan x="4325">Dataset</tspan><tspan x="4477">Method</tspan><tspan x="4628">Venue</tspan><tspan x="4740">W5A5</tspan><tspan x="4829">W4A4</tspan></text>
<text x="4325" y="1012">ImageNet</text><text x="4325" y="1039">For</text><text x="4325" y="1062">ResNet-18</text><text x="4325" y="1085">(FP:71.47 )</text>
<text y="913"><tspan x="4477">ZeroQ[<tspan fill="#4472c4">3</tspan>]</tspan><tspan x="4628">CVPR’20</tspan><tspan x="4740">69.65</tspan><tspan x="4829">60.68</tspan></text>
<text y="940"><tspan x="4477">GDFQ[<tspan fill="#4472c4">42</tspan>]</tspan><tspan x="4628">ECCV’20</tspan><tspan x="4740">66.82</tspan><tspan x="4829">60.60</tspan></text>
<text y="968"><tspan x="4477">DSG[<tspan fill="#4472c4">44</tspan>]</tspan><tspan x="4628">CVPR’21</tspan><tspan x="4740">69.53</tspan><tspan x="4829">60.12</tspan></text>
<text y="996"><tspan x="4477">ZAQ[<tspan fill="#4472c4">32</tspan>]</tspan><tspan x="4628">CVPR’21</tspan><tspan x="4740">64.54</tspan><tspan x="4829">52.64</tspan></text>
<text y="1023"><tspan x="4477">Qimera[<tspan fill="#4472c4">5</tspan>]</tspan><tspan x="4628">NeurIPS’21</tspan><tspan x="4740">69.29</tspan><tspan x="4829">63.84</tspan></text>
<text y="1050"><tspan x="4477">ARC[<tspan fill="#4472c4">6</tspan>]</tspan><tspan x="4628">IJCAI’21</tspan><tspan x="4740">68.88</tspan><tspan x="4829">61.32</tspan></text>
<text y="1078"><tspan x="4477">ARC+AIT[<tspan fill="#4472c4">48</tspan>]</tspan><tspan x="4628">CVPR’22</tspan><tspan x="4740">70.28</tspan><tspan x="4829">65.73</tspan></text>
<text y="1105"><tspan x="4477">IntraQ[<tspan fill="#4472c4">47</tspan>]</tspan><tspan x="4628">CVPR’22</tspan><tspan x="4740">69.94</tspan><tspan x="4829">66.47</tspan></text>
<text y="1133"><tspan x="4477">AdaSG[<tspan fill="#4472c4">38</tspan>]</tspan><tspan x="4628">AAAI’23</tspan><tspan x="4740">70.29</tspan><tspan x="4829">66.50</tspan></text>
<text y="1160"><tspan x="4477">AdaDFQ[<tspan fill="#4472c4">37</tspan>]</tspan><tspan x="4628">CVPR’23</tspan><tspan x="4740">70.29</tspan><tspan x="4829">66.53</tspan></text>
<text y="1187"><tspan x="4477">HAST[<tspan fill="#4472c4">28</tspan>]</tspan><tspan x="4628">ICCV’23</tspan><tspan x="4740">-</tspan><tspan x="4829">66.91</tspan></text>
<text y="1215"><tspan x="4477" font-weight="bold">Ours</tspan><tspan x="4628">-</tspan><tspan x="4740" font-weight="bold">70.35</tspan><tspan x="4829" font-weight="bold">67.02</tspan></text>
</g>

<g class="r" font-size="24">
<text x="4255" y="1279" textLength="618" lengthAdjust="spacingAndGlyphs">Table 3.  Top-1 accuracy (%) comparison with the state-of-the-</text>
<text x="4255" y="1308" textLength="618" lengthAdjust="spacingAndGlyphs">art methods on ImageNet for 4/5-bit <tspan font-weight="bold">MobileNet-V1</tspan>. ’IL’ denotes</text>
<text x="4255" y="1337" textLength="272" lengthAdjust="spacingAndGlyphs">using the inception loss [<tspan fill="#4472c4">16</tspan>].</text>
</g>
<g stroke="#000">
<line x1="4260" y1="1351" x2="4873" y2="1351" stroke-width="3"/>
<line x1="4260" y1="1389" x2="4873" y2="1389" stroke-width="2"/>
<line x1="4414" y1="1554" x2="4873" y2="1554" stroke-width="1.5"/>
<line x1="4260" y1="1585" x2="4873" y2="1585" stroke-width="3"/>
<line x1="4705" y1="1358" x2="4705" y2="1384" stroke-width="1.5"/><line x1="4790" y1="1358" x2="4790" y2="1384" stroke-width="1.5"/>
<line x1="4705" y1="1396" x2="4705" y2="1580" stroke-width="1.5"/><line x1="4790" y1="1396" x2="4790" y2="1580" stroke-width="1.5"/>
</g>
<g class="r" font-size="23" text-anchor="middle">
<text y="1378"><tspan x="4337">Dataset</tspan><tspan x="4504">Method</tspan><tspan x="4649">Venue</tspan><tspan x="4747">W5A5</tspan><tspan x="4832">W4A4</tspan></text>
<text x="4337" y="1444">ImageNet</text><text x="4337" y="1470">For</text><text x="4337" y="1493">MobileNet-V1</text><text x="4337" y="1515">(FP:73.39)</text>
<text y="1415"><tspan x="4504">ZeroQ[<tspan fill="#4472c4">3</tspan>]+IL[<tspan fill="#4472c4">16</tspan>]</tspan><tspan x="4649">CVPR’20</tspan><tspan x="4747">67.11</tspan><tspan x="4832">25.43</tspan></text>
<text y="1442"><tspan x="4504">GDFQ[<tspan fill="#4472c4">42</tspan>]</tspan><tspan x="4649">ECCV’20</tspan><tspan x="4747">59.76</tspan><tspan x="4832">28.64</tspan></text>
<text y="1468"><tspan x="4504">DSG[<tspan fill="#4472c4">44</tspan>]+IL[<tspan fill="#4472c4">16</tspan>]</tspan><tspan x="4649">CVPR’21</tspan><tspan x="4747">66.61</tspan><tspan x="4832">42.19</tspan></text>
<text y="1493"><tspan x="4504">SQuant[<tspan fill="#4472c4">13</tspan>]</tspan><tspan x="4649">ICLR’22</tspan><tspan x="4747">64.20</tspan><tspan x="4832">10.32</tspan></text>
<text y="1519"><tspan x="4504">IntraQ[<tspan fill="#4472c4">47</tspan>]</tspan><tspan x="4649">CVPR’22</tspan><tspan x="4747">68.17</tspan><tspan x="4832">51.36</tspan></text>
<text y="1546"><tspan x="4504">HAST[<tspan fill="#4472c4">28</tspan>]</tspan><tspan x="4649">ICCV’23</tspan><tspan x="4747">68.52</tspan><tspan x="4832">57.70</tspan></text>
<text y="1572"><tspan x="4504" font-weight="bold">Ours</tspan><tspan x="4649">-</tspan><tspan x="4747" font-weight="bold">69.44</tspan><tspan x="4832" font-weight="bold">59.51</tspan></text>
</g>

<g fill="#fff" stroke="#000" stroke-width="2.5">
<rect x="3482" y="1885" width="307" height="231"/><rect x="3822" y="1885" width="308" height="231"/>
<rect x="4165" y="1885" width="307" height="231"/><rect x="4506" y="1885" width="309" height="231"/>
<rect x="3477" y="2155" width="309" height="231"/><rect x="3826" y="2155" width="307" height="231"/>
<rect x="4171" y="2155" width="307" height="231"/><rect x="4510" y="2155" width="308" height="231"/>
</g>
<g id="tsne"></g>
<g class="r" font-size="26">
<text x="3755" y="2108" font-style="italic">𝒩<tspan font-size="16" dy="6">4</tspan></text>
<text x="4095" y="2108" font-style="italic">𝒩<tspan font-size="16" dy="6">5</tspan></text>
<text x="4437" y="2108" font-style="italic">𝒩<tspan font-size="16" dy="6">6</tspan></text>
<text x="4805" y="2108" text-anchor="end">Ours</text>
<text x="3484" y="2378">original</text><text x="3834" y="2378">synthetic</text>
<text x="4176" y="2378">high-reliable</text><text x="4517" y="2378">low-reliable</text>
<g text-anchor="middle" font-size="24">
<text x="3628" y="2141">(a)</text><text x="3981" y="2141">(b)</text><text x="4321" y="2141">(c)</text><text x="4665" y="2141">(d)</text>
<text x="3628" y="2411">(e)</text><text x="3981" y="2411">(f)</text><text x="4321" y="2411">(g)</text><text x="4665" y="2411">(h)</text>
</g>
</g>
<g class="r" font-size="24">
<text x="3438" y="2452" textLength="1432" lengthAdjust="spacingAndGlyphs">Figure 4.  Feature visualization using t-SNE. Figure <tspan fill="#c00000">4</tspan> (a∼d) show the feature distributions of the network 𝒩<tspan font-size="15" dy="5">4</tspan><tspan dy="-5"> (w/o ℒ</tspan><tspan font-size="15" dy="5">CE</tspan><tspan dy="-5"> and ℒ</tspan><tspan font-size="15" dy="5">CE</tspan><tspan dy="-5">), 𝒩</tspan><tspan font-size="15" dy="5">5</tspan></text>
<text x="3438" y="2485" textLength="1432" lengthAdjust="spacingAndGlyphs">(w/o ℒ<tspan font-size="15" dy="5">CE</tspan><tspan dy="-5">), 𝒩</tspan><tspan font-size="15" dy="5">6</tspan><tspan dy="-5"> (w/o ℒ</tspan><tspan font-size="15" dy="5">CE</tspan><tspan dy="-5">) and 𝒩</tspan><tspan font-size="15" dy="5">7</tspan><tspan dy="-5"> (Ours) on the original test dataset.  Figure </tspan><tspan fill="#c00000">4</tspan> (e ∼ h) show the feature distributions of the pre-trained</text>
<text x="3438" y="2519" textLength="1390" lengthAdjust="spacingAndGlyphs">network on the original dataset, the synthetic dataset, the evaluated high-reliable dataset X̂<tspan font-size="15" dy="-9">h</tspan><tspan dy="9"> and low-reliable dataset X̂</tspan><tspan font-size="15" dy="-9">l</tspan><tspan dy="9">, respectively.</tspan></text>
</g>
</svg>
<script>
(function(){
var S='http://www.w3.org/2000/svg';
function G(id){return document.getElementById(id);}
function el(p,t,a){var e=document.createElementNS(S,t);for(var k in a)e.setAttribute(k,a[k]);p.appendChild(e);return e;}
var seed=12345;function rnd(){seed=(seed*1664525+1013904223)%4294967296;return seed/4294967296;}
function gau(){var u=rnd()||1e-6,v=rnd();return Math.sqrt(-2*Math.log(u))*Math.cos(6.2832*v);}
var bg=G('bars');
var C=['#c0504d','#ffe699','#f8cbad','#5b9bd5','#7f6000','#7030a0','#548235','#375623','#c9b3e6','#c00000'];
function bars(x0,yb,hs,w,gap){for(var i=0;i<hs.length;i++){if(hs[i]<=0)continue;el(bg,'rect',{x:x0+i*(w+gap),y:yb-hs[i],width:w,height:hs[i],fill:C[i],stroke:'#333','stroke-width':1});}}
bars(2368,1511,[11,15,10,8,11,7,14,11,13,48],10,7);
bars(2587,1511,[11,16,34,9,11,7,19,10,13,42],10,7);
bars(2486,1799,[20,17,22,28,33,25,38,17,31,42],10,7);
el(bg,'rect',{x:2512,y:1584,width:9,height:50,fill:'#c00000',stroke:'#333','stroke-width':1});
el(bg,'rect',{x:2649,y:1600,width:5,height:36,fill:'#c00000',stroke:'#333','stroke-width':1});
el(bg,'rect',{x:2700,y:1606,width:5,height:30,fill:'#f8cbad',stroke:'#333','stroke-width':1});
var ng=G('nets');
function slab(x,t,b,W,dy,fw,c1,c2){el(ng,'polygon',{points:(x+fw)+','+(t+dy)+' '+(x+W)+','+t+' '+(x+W)+','+(b-dy)+' '+(x+fw)+','+b,fill:c2,stroke:'#fff','stroke-width':1});el(ng,'rect',{x:x,y:t+dy,width:fw,height:b-t-dy,fill:c1,stroke:'#fff','stroke-width':1});}
function net(x,y,s,c1,c2){
 slab(x,y,y+87*s,58*s,26*s,12*s,c1,c2);
 slab(x+45*s,y+10*s,y+80*s,42*s,18*s,10*s,c1,c2);
 slab(x+80*s,y+20*s,y+73*s,30*s,12*s,8*s,c1,c2);
 el(ng,'text',{x:x+112*s,y:y+58*s,'font-size':14*s,fill:'#888'}).textContent='...';
 slab(x+138*s,y+32*s,y+73*s,34*s,10*s,12*s,c1,c2);
 slab(x+170*s,y+40*s,y+63*s,55*s,10*s,30*s,c1,c2);
}
net(1956,1401,1.0,'#3f8c8c','#5aa5a5');
net(1956,1736,1.0,'#4a5f8a','#6b80a8');
net(889,1524,0.4,'#1f7a7a','#3aa0a0');
net(1024,1522,0.4,'#7d8fa8','#a0b0c8');
net(1268,1518,0.4,'#1f7a7a','#3aa0a0');
net(1433,1515,0.4,'#7d8fa8','#a0b0c8');
var ig=G('imgs');
var PC=['#ff3030','#30ff30','#3070ff','#ffff40','#ff40ff','#40ffff','#ffffff','#ff9020'];
function stack(x,y,w,h,off){for(var k=2;k>=0;k--){var xx=x+k*off,yy=y+k*off;el(ig,'rect',{x:xx,y:yy,width:w,height:h,fill:'#000',stroke:'#fff','stroke-width':1});for(var i=0;i<Math.round(w*h/20);i++){el(ig,'rect',{x:xx+rnd()*(w-3),y:yy+rnd()*(h-3),width:2+rnd()*3,height:2+rnd()*3,fill:PC[Math.floor(rnd()*8)]});}}}
stack(1723,1583,68,80,12);
stack(954,1415,55,55,8);
stack(1339,1415,55,55,8);
var vg=G('venn');
var st=[[2960,1520],[2985,1530],[2955,1560],[2990,1565],[2965,1600],[3000,1610],[2950,1625],[3020,1500],[3030,1540],[3040,1590],[3055,1520],[3060,1605],[3035,1625]];
st.forEach(function(p){var t=el(vg,'text',{x:p[0],y:p[1],'font-size':20,fill:'#1b6e70'});t.textContent='★';});
var tr=[[3068,1525],[3055,1555],[3075,1548],[3065,1590],[3080,1575],[3060,1620],[3082,1605]];
tr.forEach(function(p){var t=el(vg,'text',{x:p[0],y:p[1],'font-size':17,fill:'#a00000'});t.textContent='▲';});
var tl=[[3120,1505],[3150,1515],[3115,1545],[3160,1560],[3130,1590],[3170,1600],[3110,1630],[3150,1630]];
tl.forEach(function(p){var t=el(vg,'text',{x:p[0],y:p[1],'font-size':17,fill:'#f4b6ad'});t.textContent='▲';});
var tg=G('tsne');
var T={b:'#1f77b4',o:'#ff7f0e',g:'#2ca02c',r:'#d62728',p:'#9467bd',n:'#8c564b',k:'#e377c2',y:'#7f7f7f',l:'#bcbd22',c:'#17becf'};
function panel(x0,y0,w,h,cl){cl.forEach(function(c){var n=c[5]||45;for(var i=0;i<n;i++){var px=x0+w*(c[1]+gau()*c[3]),py=y0+h*(c[2]+gau()*c[4]);if(px<x0+4||px>x0+w-4||py<y0+4||py>y0+h-4)continue;el(tg,'circle',{cx:px.toFixed(1),cy:py.toFixed(1),r:2.3,fill:T[c[0]]});}});}
var s1=.025,s2=.045;
panel(3482,1885,307,231,[['k',.21,.16,.025,.07],['g',.43,.18,s1,s2],['l',.82,.25,s1,.05],['b',.61,.34,.06,.05,70],['r',.27,.4,.03,.07],['p',.09,.52,.025,.05],['n',.3,.64,.025,.06],['o',.89,.67,s1,.05],['c',.68,.79,s1,.06],['y',.15,.83,.025,.08]]);
panel(3822,1885,308,231,[['k',.16,.13,.02,.06],['g',.375,.15,s1,.05],['b',.52,.3,.04,.04],['l',.71,.24,s1,s2],['r',.125,.4,s1,.04],['n',.08,.59,s1,.05],['p',.27,.53,s1,.05],['o',.91,.5,.02,.04],['c',.64,.66,.02,.07],['y',.25,.88,.02,.05]]);
panel(4165,1885,307,231,[['p',.14,.1,.02,.04],['r',.1,.3,.03,.05],['n',.13,.46,.025,.04],['k',.37,.46,.03,.05],['g',.4,.2,.03,.04],['b',.64,.23,.035,.035],['l',.85,.17,.03,.03],['c',.87,.48,.035,.04],['o',.71,.64,.02,.045],['y',.31,.9,.02,.04]]);
panel(4506,1885,309,231,[['k',.25,.14,.02,.06],['l',.78,.14,.02,.05],['g',.43,.34,.025,.045],['b',.6,.33,.035,.04],['r',.29,.47,.03,.05],['n',.08,.49,.02,.045],['p',.41,.62,.02,.05],['o',.91,.52,.02,.04],['c',.74,.75,.02,.065],['y',.28,.9,.02,.04]]);
panel(3477,2155,309,231,[['b',.61,.1,.025,.035],['g',.43,.17,.02,.04],['l',.89,.24,.02,.03],['k',.1,.36,.02,.03],['r',.3,.48,.025,.04],['p',.53,.46,.02,.025],['c',.86,.52,.02,.025],['n',.25,.6,.025,.04],['o',.71,.73,.02,.045],['y',.44,.89,.02,.04]]);
panel(3826,2155,307,231,[['g',.3,.2,.06,.12,60],['y',.45,.3,.08,.12,60],['n',.15,.55,.05,.12,60],['r',.2,.6,.06,.1,60],['k',.1,.75,.05,.08,40],['p',.35,.6,.1,.15,60],['l',.6,.5,.1,.12,60],['c',.85,.4,.05,.1,50],['o',.88,.7,.05,.08,50],['b',.65,.75,.07,.1,60]]);
panel(4171,2155,307,231,[['g',.4,.12,.03,.04],['b',.76,.14,.025,.05],['k',.1,.41,.02,.05],['y',.5,.42,.015,.03,25],['c',.88,.5,.03,.04],['p',.35,.58,.012,.02,15],['n',.22,.79,.015,.025,20],['r',.45,.78,.025,.04],['o',.75,.89,.025,.03],['l',.77,.31,.005,.01,6]]);
panel(4510,2155,308,231,[['k',.45,.3,.15,.18,60],['r',.3,.45,.12,.2,60],['n',.15,.55,.07,.15,50],['g',.5,.5,.15,.2,60],['p',.45,.65,.15,.15,60],['b',.6,.55,.15,.18,60],['l',.75,.35,.08,.15,50],['c',.8,.6,.08,.12,60],['o',.9,.65,.04,.1,40],['y',.5,.7,.15,.12,50]]);
})();
</script>
</body></html>
